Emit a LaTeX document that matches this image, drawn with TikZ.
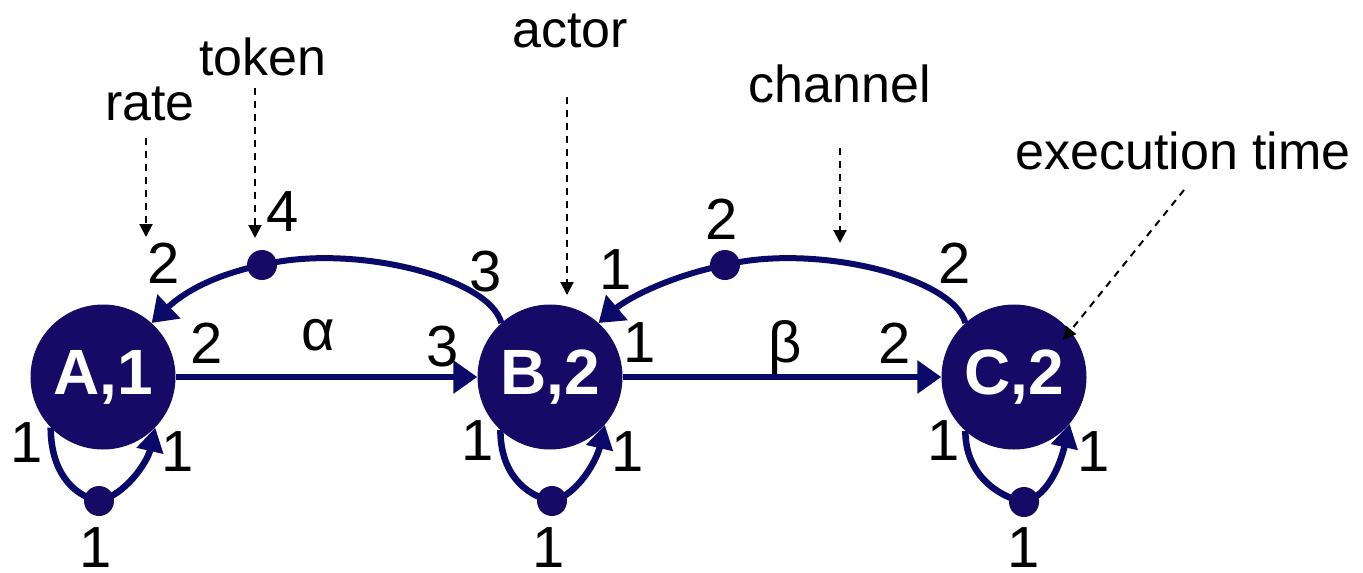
\documentclass[tikz,border=0pt]{standalone}
\usepackage{fontspec}
\setmainfont{Liberation Sans}
\usetikzlibrary{arrows.meta}
\definecolor{nodefill}{RGB}{22,10,102}
\definecolor{edgecol}{RGB}{10,8,104}
\pgfdeclarelayer{bg}
\pgfsetlayers{bg,main}
\begin{document}
\begin{tikzpicture}[x=1pt,y=-1pt,
 actor/.style={circle, fill=nodefill, minimum size=145pt, inner sep=0pt, text=white, font=\fontsize{64}{64}\selectfont\bfseries},
 tokdot/.style={circle, fill=nodefill, minimum size=30pt, inner sep=0pt},
 chan/.style={draw=edgecol, line width=6pt, -{Triangle[length=24pt,width=32pt]}},
 loopchan/.style={draw=edgecol, line width=6.5pt, -{Triangle[length=24pt,width=26pt]}},
 lbl/.style={inner sep=0pt, font=\fontsize{58}{58}\selectfont},
 word/.style={inner sep=0pt, anchor=base, font=\fontsize{52}{52}\selectfont},
 pointer/.style={draw=black, line width=2pt, dash pattern=on 7pt off 6pt, -{Triangle[length=13pt,width=13pt]}},
]
\useasboundingbox (0,0) rectangle (1363,573);

% actors
\node[actor] (A) at (103,377) {A,1};
\node[actor] (B) at (550,377) {B,2};
\node[actor] (C) at (1014,377) {C,2};

% token dots
\node[tokdot] (t1) at (262,265) {};
\node[tokdot] (t2) at (725,265) {};
\node[tokdot] (la) at (99,501) {};
\node[tokdot] (lb) at (552,501) {};
\node[tokdot] (lc) at (1024,502) {};

\begin{pgfonlayer}{bg}
% straight channels
\draw[chan] (A.east) -- (B.west);
\draw[chan] (B.east) -- (C.west);
% back channels
\draw[chan] (B.132) .. controls +(-12,-46) and +(90,-22) .. (t1.center)
            .. controls +(-59,12) and +(24,-23) .. (A.48);
\draw[chan] (C.132) .. controls +(-12,-46) and +(90,-22) .. (t2.center)
            .. controls +(-59,12) and +(27,-23) .. (B.48);
% self loops
\draw[loopchan] (A.224) .. controls +(0,42) and +(-28,-6) .. (la.center)
            .. controls +(26,-6) and +(-8,35) .. (A.316);
\draw[loopchan] (B.227) .. controls +(0,42) and +(-28,-6) .. (lb.center)
            .. controls +(26,-6) and +(-8,35) .. (B.319);
\draw[loopchan] (C.228) .. controls +(0,42) and +(-28,-6) .. (lc.center)
            .. controls +(26,-6) and +(-8,35) .. (C.320);
\end{pgfonlayer}

% rates and token counts
\node[lbl] (r1) at (164,263) {2};
\node[lbl] (r2) at (207,343) {2};
\node[lbl] (n1) at (283,212) {4};
\node[lbl] (r3) at (486,272) {3};
\node[lbl] (r4) at (443,347) {3};
\node[lbl] (r5) at (640,343) {1};
\node[lbl] (r6) at (616,270) {1};
\node[lbl] (n2) at (722,219) {2};
\node[lbl] (r7) at (955,263) {2};
\node[lbl] (r8) at (895,343) {2};
\node[lbl] (al) at (318,335) {α};
\node[lbl, anchor=base] (be) at (785,362) {β};
% loop labels
\node[lbl] (a1) at (27,443) {1};
\node[lbl] (a2) at (178,452) {1};
\node[lbl] (a3) at (96,548) {1};
\node[lbl] (b1) at (478,441) {1};
\node[lbl] (b2) at (628,452) {1};
\node[lbl] (b3) at (549,548) {1};
\node[lbl] (c1) at (944,441) {1};
\node[lbl] (c2) at (1094,452) {1};
\node[lbl] (c3) at (1024,548) {1};

% annotation words
\node[word] (wrate) at (150,120) {rate};
\node[word] (wtok) at (263,75) {token};
\node[word] (wact) at (570,47) {actor};
\node[word] (wch) at (840,102) {channel};
\node[word] (wex) at (1183,169) {execution time};

% pointers
\coordinate (p1s) at (146,138); \coordinate (p1e) at (146,237);
\coordinate (p2s) at (255,88);  \coordinate (p2e) at (255,238);
\coordinate (p3s) at (567,97);  \coordinate (p3e) at (567,295);
\coordinate (p4s) at (840,148); \coordinate (p4e) at (840,243);
\coordinate (p5s) at (1184,190); \coordinate (p5e) at (1063,340);
\draw[pointer] (p1s) -- (p1e);
\draw[pointer] (p2s) -- (p2e);
\draw[pointer] (p3s) -- (p3e);
\draw[pointer] (p4s) -- (p4e);
\draw[pointer] (p5s) -- (p5e);
\end{tikzpicture}
\end{document}
